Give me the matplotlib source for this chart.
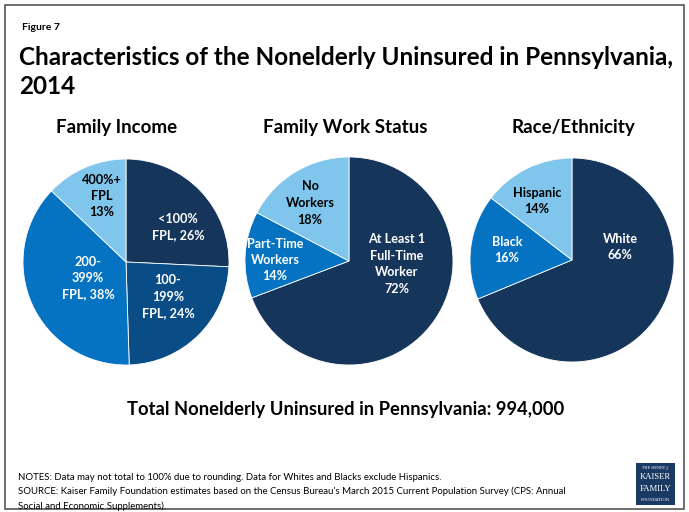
import matplotlib
matplotlib.use("Agg")
import matplotlib.pyplot as plt
from matplotlib.patches import Rectangle

W, H = 689, 512
NAVY = "#15355A"
MID = "#0A4D86"
BLUE = "#0573C1"
LIGHT = "#7FC5EC"

# ---- data ----
income_labels = ["<100%\nFPL, 26%", "100-\n199%\nFPL, 24%", "200-\n399%\nFPL, 38%", "400%+\nFPL\n13%"]
income_values = [26, 24, 38, 13]
income_colors = [NAVY, MID, BLUE, LIGHT]

work_labels = ["At Least 1\nFull-Time\nWorker\n72%", "Part-Time\nWorkers\n14%", "No\nWorkers\n18%"]
work_values = [72, 14, 18]
work_colors = [NAVY, BLUE, LIGHT]

race_labels = ["White\n66%", "Black\n16%", "Hispanic\n14%"]
race_values = [66, 16, 14]
race_colors = [NAVY, BLUE, LIGHT]

titles = ["Family Income", "Family Work Status", "Race/Ethnicity"]

# ---- layout (pixels) ----
pie_centers = [(126, 262, 103), (349, 261, 104), (572, 260, 102)]
label_pos = [
    [(178, 227), (168, 297), (88, 278), (102, 196)],
    [(397, 264), (275, 260), (310, 203)],
    [(620, 247), (507, 250), (537, 201)],
]
title_x = [117, 345, 573]

FONT = "Lato"
plt.rcParams["font.family"] = [FONT, "DejaVu Sans"]

fig = plt.figure(figsize=(W / 100, H / 100), dpi=100)
bg = fig.add_axes([0, 0, 1, 1])
bg.set_xlim(0, W)
bg.set_ylim(H, 0)
bg.axis("off")

bg.add_patch(Rectangle((5, 5), 679, 504, fill=False, edgecolor="#555555", lw=1.2))

bg.text(22, 27, "Figure 7", fontsize=7.5, fontweight="bold", va="center", ha="left")
bg.text(19, 72, "Characteristics of the Nonelderly Uninsured in Pennsylvania,\n2014",
        fontsize=17.5, fontweight="bold", va="center", ha="left", linespacing=1.35)

datasets = [(income_values, income_colors, income_labels),
            (work_values, work_colors, work_labels),
            (race_values, race_colors, race_labels)]

for i, ((vals, cols, labs), (cx, cy, r)) in enumerate(zip(datasets, pie_centers)):
    ax = fig.add_axes([(cx - r) / W, (H - cy - r) / H, 2 * r / W, 2 * r / H])
    ax.pie(vals, colors=cols, startangle=90, counterclock=False,
           wedgeprops=dict(edgecolor="white", linewidth=0.6))
    ax.set_xlim(-1, 1)
    ax.set_ylim(-1, 1)
    ax.set_aspect("auto")
    ax.axis("off")

top = fig.add_axes([0, 0, 1, 1])
top.set_xlim(0, W)
top.set_ylim(H, 0)
top.axis("off")
top.patch.set_alpha(0)

for i, (vals, cols, labs) in enumerate(datasets):
    for lab, col, (lx, ly) in zip(labs, cols, label_pos[i]):
        tc = "black" if col == LIGHT else "white"
        top.text(lx, ly, lab, fontsize=9.1, fontweight="bold", color=tc,
                 ha="center", va="center", linespacing=1.45)
    top.text(title_x[i], 127, titles[i], fontsize=13.5, fontweight="bold",
             ha="center", va="center")

top.text(346, 409, "Total Nonelderly Uninsured in Pennsylvania: 994,000",
         fontsize=13.2, fontweight="bold", ha="center", va="center")

notes = ["NOTES: Data may not total to 100% due to rounding. Data for Whites and Blacks exclude Hispanics.",
         "SOURCE: Kaiser Family Foundation estimates based on the Census Bureau's March 2015 Current Population Survey (CPS: Annual",
         "Social and Economic Supplements)."]
for k, line in enumerate(notes):
    top.text(18, 477 + 14.5 * k, line, fontsize=6.95, ha="left", va="center")

# logo
top.add_patch(Rectangle((636, 463), 39, 42, facecolor="#1B3A63", edgecolor="none"))
top.text(655.5, 468, "THE HENRY J.", fontsize=2.6, color="white", ha="center", va="center", family="DejaVu Serif")
top.text(655.5, 477, "KAISER", fontsize=6.2, color="white", ha="center", va="center", family="Liberation Serif")
top.text(655.5, 489, "FAMILY", fontsize=6.2, color="white", ha="center", va="center", family="Liberation Serif")
top.text(655.5, 500, "FOUNDATION", fontsize=2.8, color="white", ha="center", va="center", family="DejaVu Serif")

fig.savefig("out.png", dpi=100)
